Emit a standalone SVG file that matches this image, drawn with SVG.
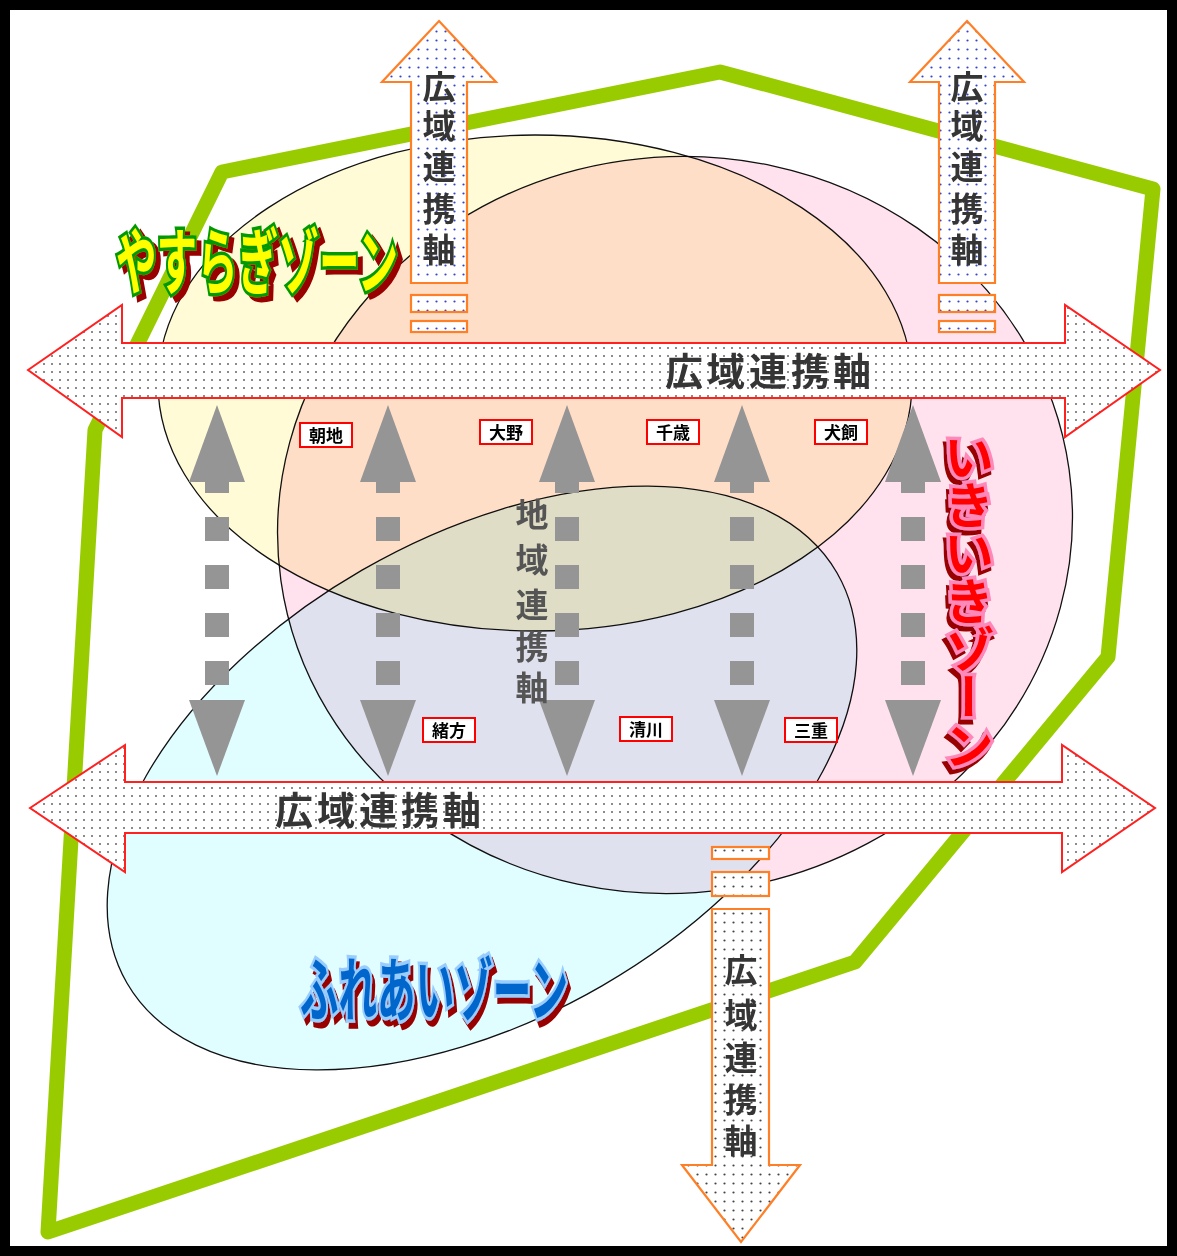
<svg xmlns="http://www.w3.org/2000/svg" width="1177" height="1256" viewBox="0 0 1177 1256">
<defs>
<pattern id="dg" width="8" height="8" patternUnits="userSpaceOnUse"><rect width="8" height="8" fill="#fff"/><circle cx="4" cy="4" r="1" fill="#666"/></pattern>
<pattern id="db" width="9" height="9" patternUnits="userSpaceOnUse"><rect width="9" height="9" fill="#fff"/><circle cx="4.5" cy="4.5" r="1.1" fill="#3344cc"/></pattern>
<pattern id="dk" width="9" height="9" patternUnits="userSpaceOnUse"><rect width="9" height="9" fill="#fff"/><circle cx="4.5" cy="4.5" r="1.1" fill="#444"/></pattern>
<filter id="shR" x="-10%" y="-10%" width="130%" height="140%"><feOffset in="SourceAlpha" dx="5" dy="5" result="o"/><feFlood flood-color="#990000"/><feComposite in2="o" operator="in" result="s"/><feMerge><feMergeNode in="s"/><feMergeNode in="SourceGraphic"/></feMerge></filter>
<filter id="shL" x="-30%" y="-5%" width="160%" height="115%"><feOffset in="SourceAlpha" dx="-3" dy="5" result="o"/><feFlood flood-color="#990000"/><feComposite in2="o" operator="in" result="s"/><feMerge><feMergeNode in="s"/><feMergeNode in="SourceGraphic"/></feMerge></filter>
<filter id="shB" x="-10%" y="-10%" width="130%" height="140%"><feOffset in="SourceAlpha" dx="3" dy="6" result="o"/><feFlood flood-color="#990000"/><feComposite in2="o" operator="in" result="s"/><feMerge><feMergeNode in="s"/><feMergeNode in="SourceGraphic"/></feMerge></filter>
<g id="ga">
<rect x="-12" y="469" width="24" height="24"/>
<rect x="-12" y="517" width="24" height="24"/>
<rect x="-12" y="565" width="24" height="24"/>
<rect x="-12" y="613" width="24" height="24"/>
<rect x="-12" y="661" width="24" height="24"/>
<polygon points="0,405 28,482 -28,482"/>
<polygon points="-28,700 28,700 0,776"/>
</g>
</defs>
<style>
.jp{font-family:"Noto Sans CJK JP","Noto Sans",sans-serif}
.ell{stroke:#111;stroke-width:1.3;mix-blend-mode:multiply}
.harrow{fill:url(#dg);stroke:#ff2020;stroke-width:2}
.varrow{fill:url(#db);stroke:#ff7f27;stroke-width:2.2}
.varrow2{fill:url(#dk);stroke:#ff7f27;stroke-width:2.2}
.gray{fill:#959595}
.lbl rect{fill:#fff;stroke:#ff0000;stroke-width:2}
.lbl text{font-size:17px;font-weight:bold;text-anchor:middle;fill:#000}
.axis{font-size:38px;font-weight:bold;fill:#353535}
.vax{font-size:33px;font-weight:bold;fill:#353535;text-anchor:middle;dominant-baseline:central}
</style>
<rect x="0" y="0" width="1177" height="1256" fill="#fff"/>
<rect x="5" y="5" width="1167" height="1246" fill="none" stroke="#000" stroke-width="10"/>

<g id="boundary">
<polygon points="222,172 720,72 1153,189 1108,657 855,962 48,1232 95,430" fill="none" stroke="#99cc00" stroke-width="15" stroke-linejoin="round"/>
</g>

<g id="zones-ellipses">
<ellipse id="ellipse-pink" class="ell" cx="675" cy="525" rx="398" ry="368" transform="rotate(-8 675 525)" fill="#ffe2ee"/>
<ellipse id="ellipse-yellow" class="ell" cx="535" cy="383" rx="377" ry="248" fill="#fffbd6"/>
<ellipse id="ellipse-blue" class="ell" cx="482" cy="778" rx="410" ry="240" transform="rotate(-30 482 778)" fill="#e0feff"/>
</g>

<g id="connectors">
<g id="local-axes" class="gray">
<use href="#ga" x="217"/>
<use href="#ga" x="388"/>
<use href="#ga" x="567"/>
<use href="#ga" x="742"/>
<use href="#ga" x="913"/>
</g>
<path id="h-axis-top" class="harrow" d="M28,370 L122,305 L122,343 L1065,343 L1065,305 L1160,370 L1065,437 L1065,398 L122,398 L122,437 Z"/>
<path id="h-axis-bottom" class="harrow" d="M30,808 L125,745 L125,782 L1062,782 L1062,745 L1155,808 L1062,872 L1062,833 L125,833 L125,872 Z"/>
<g id="v-axis-topleft" class="varrow">
<path d="M439,21 L496,82 L467,82 L467,283 L411,283 L411,82 L382,82 Z"/>
<rect x="411" y="295" width="56" height="17"/>
<rect x="411" y="321" width="56" height="11"/>
</g>
<g id="v-axis-topright" class="varrow">
<path d="M967,21 L1024,82 L995,82 L995,283 L939,283 L939,82 L910,82 Z"/>
<rect x="939" y="295" width="56" height="17"/>
<rect x="939" y="321" width="56" height="11"/>
</g>
<g id="v-axis-bottom" class="varrow2">
<rect x="712" y="847" width="57" height="12"/>
<rect x="712" y="872" width="57" height="24"/>
<path d="M712,909 L769,909 L769,1165 L800,1165 L741,1242 L682,1165 L712,1165 Z"/>
</g>
</g>

<g id="axis-labels" class="jp">
<text class="axis" x="665" y="385" letter-spacing="4">広域連携軸</text>
<text class="axis" x="275" y="824" letter-spacing="4">広域連携軸</text>
<g class="vax">
<text x="439" y="85">広</text><text x="439" y="124">域</text><text x="439" y="165">連</text><text x="439" y="207">携</text><text x="439" y="248">軸</text>
<text x="967" y="85">広</text><text x="967" y="124">域</text><text x="967" y="165">連</text><text x="967" y="207">携</text><text x="967" y="248">軸</text>
<text x="741" y="968">広</text><text x="741" y="1013">域</text><text x="741" y="1056">連</text><text x="741" y="1098">携</text><text x="741" y="1139">軸</text>
</g>
<g class="vax" style="fill:#555">
<text x="532" y="513">地</text><text x="532" y="558">域</text><text x="532" y="603">連</text><text x="532" y="645">携</text><text x="532" y="686">軸</text>
</g>
</g>

<g id="place-asaji" class="lbl jp"><rect x="300" y="423" width="52" height="24"/><text x="326" y="442">朝地</text></g>
<g id="place-ono" class="lbl jp"><rect x="480" y="420" width="52" height="24"/><text x="506" y="439">大野</text></g>
<g id="place-chitose" class="lbl jp"><rect x="647" y="420" width="52" height="24"/><text x="673" y="439">千歳</text></g>
<g id="place-inukai" class="lbl jp"><rect x="815" y="420" width="52" height="24"/><text x="841" y="439">犬飼</text></g>
<g id="place-ogata" class="lbl jp"><rect x="423" y="718" width="52" height="24"/><text x="449" y="737">緒方</text></g>
<g id="place-kiyokawa" class="lbl jp"><rect x="620" y="717" width="52" height="24"/><text x="646" y="736">清川</text></g>
<g id="place-mie" class="lbl jp"><rect x="785" y="718" width="52" height="24"/><text x="811" y="737">三重</text></g>

<g id="zone-yasuragi" class="jp" font-size="72" font-weight="bold" filter="url(#shR)">
<text x="116" y="288" textLength="282" lengthAdjust="spacingAndGlyphs" fill="#ffff00" stroke="#009900" stroke-width="7" paint-order="stroke">やすらぎゾーン</text>
</g>
<g id="zone-ikiiki" class="jp" font-size="50" font-weight="bold" filter="url(#shL)">
<text x="969" y="432" letter-spacing="-2" style="writing-mode:vertical-rl" fill="#ff0000" stroke="#ff88bb" stroke-width="7" paint-order="stroke">いきいきゾーン</text>
</g>
<g id="zone-fureai" class="jp" font-size="70" font-weight="bold" filter="url(#shB)">
<text x="300" y="1016" textLength="268" lengthAdjust="spacingAndGlyphs" fill="#0066cc" stroke="#99ccff" stroke-width="7" paint-order="stroke">ふれあいゾーン</text>
</g>
</svg>
